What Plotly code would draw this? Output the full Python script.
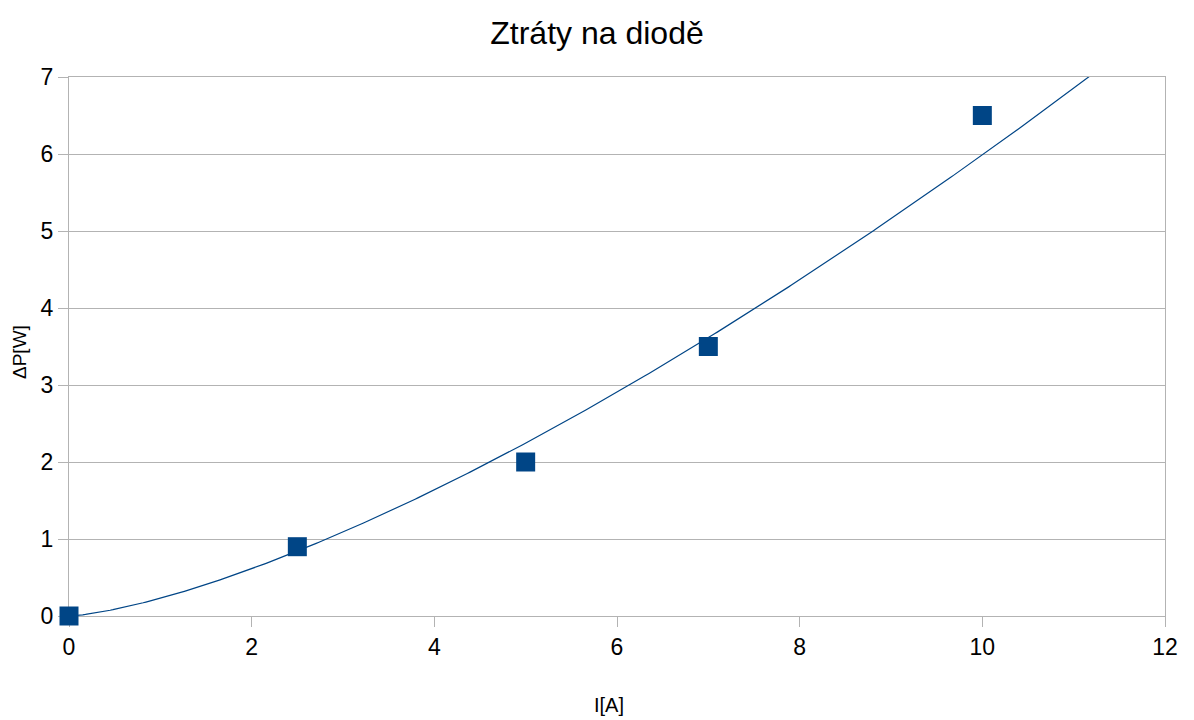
import numpy as np
import plotly.graph_objects as go

# Measured diode losses
current_a = [0, 2.5, 5, 7, 10]
loss_w = [0, 0.9, 2, 3.5, 6.5]

x_ticks = [0, 2, 4, 6, 8, 10, 12]
y_ticks = [0, 1, 2, 3, 4, 5, 6, 7]

BLUE = "#004586"
GRID = "#b3b3b3"
FONT = "Liberation Sans, Arial, sans-serif"

W, H = 1194, 720
L, R, T, B = 69, 29, 77, 104

# Power-law trend line y = a * x^b, least squares in log space (x, y > 0)
xs = np.array([x for x, y in zip(current_a, loss_w) if x > 0 and y > 0], dtype=float)
ys = np.array([y for x, y in zip(current_a, loss_w) if x > 0 and y > 0], dtype=float)
b, ln_a = np.polyfit(np.log(xs), np.log(ys), 1)
a = np.exp(ln_a)
x_fit = np.linspace(0, 12, 400)
y_fit = a * x_fit ** b

fig = go.Figure()
fig.add_trace(go.Scatter(
    x=x_fit, y=y_fit, mode="lines",
    line=dict(color=BLUE, width=1.2),
    hoverinfo="skip", showlegend=False,
))
fig.add_trace(go.Scatter(
    x=current_a, y=loss_w, mode="markers",
    marker=dict(symbol="square", size=19, color=BLUE,
                line=dict(width=0)),
    showlegend=False, cliponaxis=False,
))

tick_font = dict(family=FONT, size=23, color="#000000")

fig.update_layout(
    width=W, height=H,
    margin=dict(l=L, r=R, t=T, b=B),
    paper_bgcolor="white", plot_bgcolor="white",
    font=dict(family=FONT, color="#000000"),
    title=dict(text="Ztráty na diodě", x=0.5, xanchor="center",
               y=1 - 33 / H, yanchor="middle",
               font=dict(size=32, family=FONT)),
    xaxis=dict(
        range=[0, 12], tickvals=x_ticks, ticktext=[str(v) for v in x_ticks],
        showgrid=False, zeroline=False,
        showline=True, linecolor=GRID, linewidth=1, mirror=True,
        ticks="outside", ticklen=10, tickcolor=GRID,
        tickfont=tick_font, layer="below traces",
    ),
    yaxis=dict(
        range=[0, 7], tickvals=y_ticks, ticktext=[str(v) for v in y_ticks],
        showgrid=True, gridcolor=GRID, gridwidth=1, zeroline=False,
        showline=True, linecolor=GRID, linewidth=1, mirror=True,
        ticks="outside", ticklen=10, tickcolor=GRID,
        tickfont=tick_font, layer="below traces",
    ),
    annotations=[
        dict(text="I[A]", xref="paper", yref="paper",
             x=(609 - L) / (W - L - R), y=-(705 - (H - B)) / (H - T - B),
             xanchor="center", yanchor="middle", showarrow=False,
             font=dict(family=FONT, size=20, color="#000000")),
        dict(text="ΔP[W]", xref="paper", yref="paper",
             x=-(L - 19) / (W - L - R), y=((H - B) - 352) / (H - T - B),
             xanchor="center", yanchor="middle", showarrow=False, textangle=-90,
             font=dict(family=FONT, size=19, color="#000000")),
    ],
)

fig.write_html("out.html")
